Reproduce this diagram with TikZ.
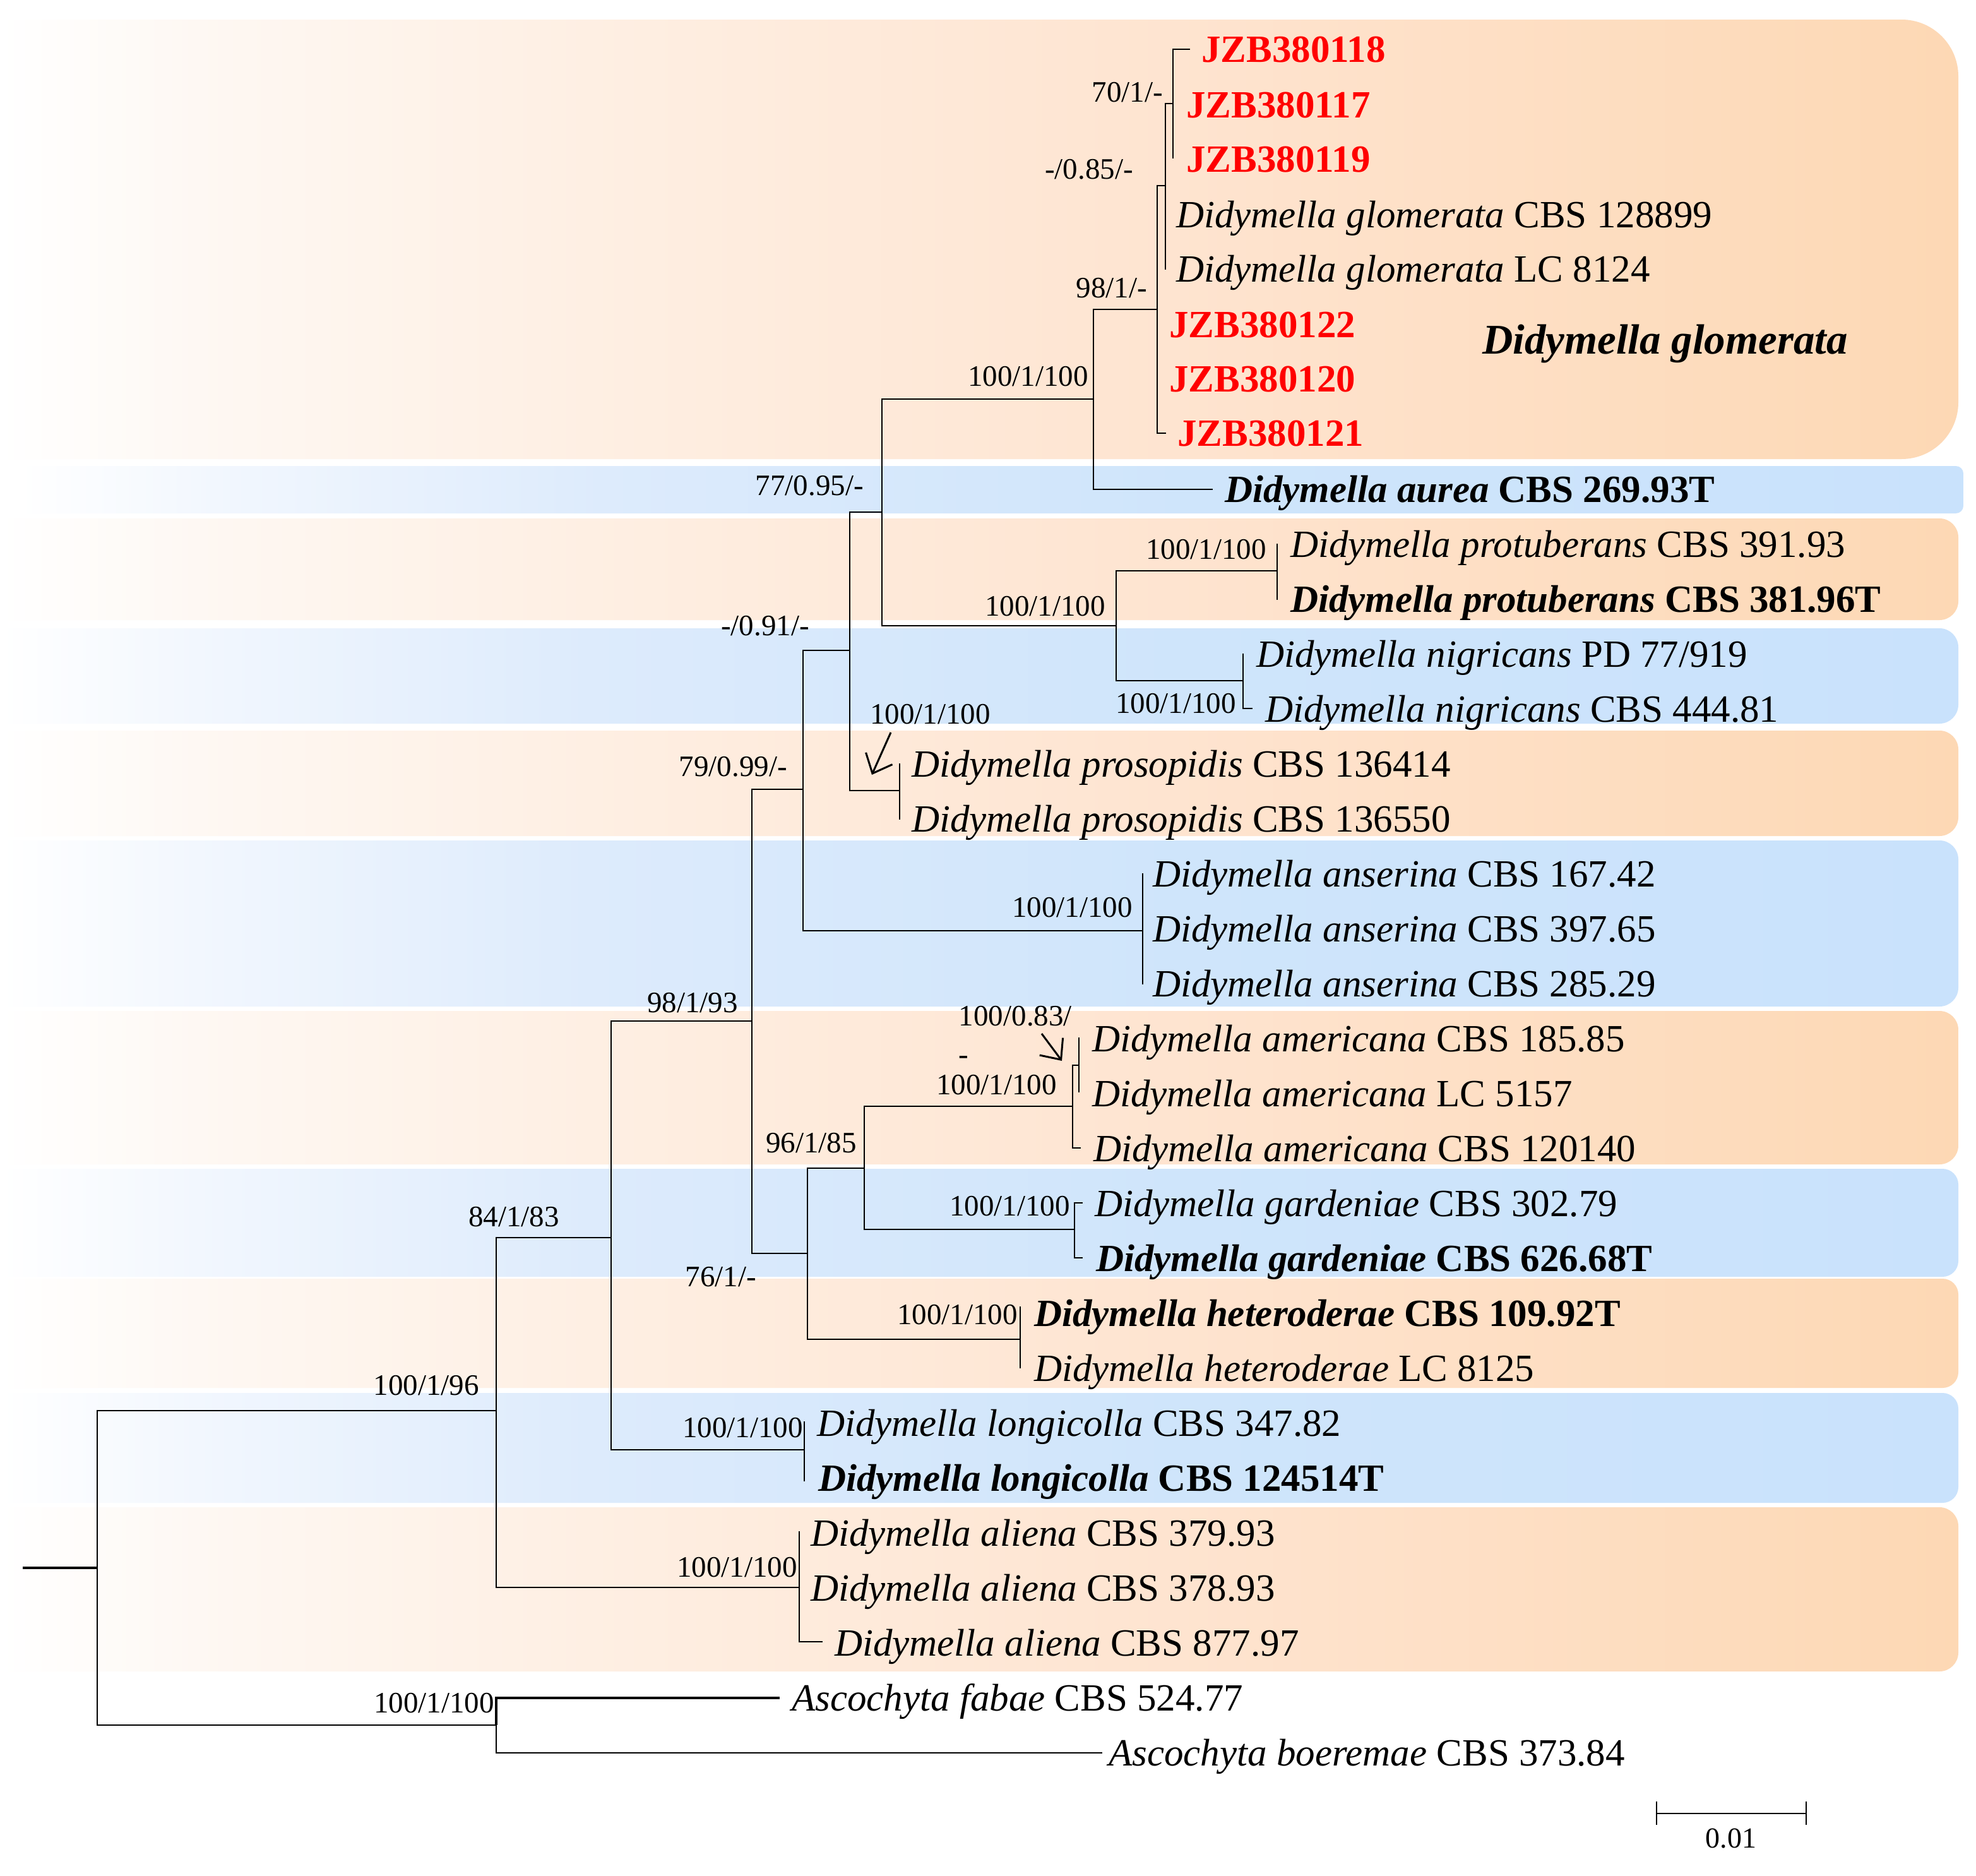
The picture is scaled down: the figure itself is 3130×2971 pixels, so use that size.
\documentclass[tikz,border=0pt]{standalone}
\usepackage{fontspec}
\setmainfont{Liberation Serif}
\usetikzlibrary{arrows.meta}
\definecolor{o1}{HTML}{FEF8F3}
\definecolor{o2}{HTML}{FEEFE3}
\definecolor{o3}{HTML}{FEE4D0}
\definecolor{o4}{HTML}{FDD8B4}
\definecolor{b1}{HTML}{F2F7FE}
\definecolor{b2}{HTML}{DDEBFC}
\definecolor{b3}{HTML}{CFE5FB}
\definecolor{b4}{HTML}{C9E2FC}
\definecolor{jzbred}{HTML}{FF0000}
\pgfdeclarehorizontalshading{orangeband}{100bp}{color(0bp)=(white); color(25bp)=(white); color(30bp)=(o1); color(40bp)=(o2); color(55bp)=(o3); color(75bp)=(o4); color(100bp)=(o4)}
\pgfdeclarehorizontalshading{blueband}{100bp}{color(0bp)=(white); color(25bp)=(white); color(30bp)=(b1); color(40bp)=(b2); color(55bp)=(b3); color(75bp)=(b4); color(100bp)=(b4)}
\newcommand{\myband}[6]{\shade[shading=#6] (#1,#2) -- ({#4-#5},#2) arc[start angle=90,end angle=0,radius=#5pt] -- (#4,{#3-#5}) arc[start angle=0,end angle=-90,radius=#5pt] -- (#1,#3) -- cycle;}
\tikzset{
  branch/.style={line width=2pt, line cap=rect},
  thickbranch/.style={line width=3.5pt},
  tiplab/.style={anchor=base west, inner sep=0pt, font=\fontsize{61}{70}\selectfont},
  supp/.style={anchor=base east, inner sep=0pt, font=\fontsize{47}{55}\selectfont},
  pointer/.style={line width=3pt, -{Straight Barb[length=26pt,width=46pt]}},
}
\newcommand{\jzb}[1]{\textcolor{jzbred}{\bfseries #1}}
\begin{document}
\begin{tikzpicture}[x=1pt,y=-1pt]
\useasboundingbox (0,0) rectangle (3130,2971);
\fill[white] (0,0) rectangle (3130,2971);
% bands
\myband{0}{31}{727}{3102}{90}{orangeband}
\myband{30}{738}{813}{3110}{12}{blueband}
\myband{0}{821}{982}{3102}{30}{orangeband}
\myband{0}{995}{1146}{3102}{30}{blueband}
\myband{0}{1157}{1324}{3102}{30}{orangeband}
\myband{0}{1331}{1594}{3102}{30}{blueband}
\myband{0}{1601}{1844}{3102}{30}{orangeband}
\myband{0}{1851}{2022}{3102}{25}{blueband}
\myband{0}{2025}{2198}{3102}{25}{orangeband}
\myband{0}{2206}{2380}{3102}{25}{blueband}
\myband{0}{2387}{2647}{3102}{30}{orangeband}
% internal nodes
\coordinate (rs) at (36,2483);
\coordinate (R) at (154,2483);
\coordinate (D) at (786,2234);
\coordinate (O) at (786,2732);
\coordinate (E) at (968,1960);
\coordinate (Al) at (1266,2514);
\coordinate (F) at (1191,1617);
\coordinate (Lo) at (1274,2296);
\coordinate (G) at (1272,1250);
\coordinate (H) at (1279,1985);
\coordinate (K) at (1346,1030);
\coordinate (An) at (1810,1474);
\coordinate (J) at (1397,811);
\coordinate (Pr) at (1425,1252);
\coordinate (L) at (1732,632);
\coordinate (M) at (1768,991);
\coordinate (N) at (1833,490);
\coordinate (P) at (1846,294);
\coordinate (Q) at (1858,164);
\coordinate (Pt) at (2023,904);
\coordinate (Ng) at (1969,1078);
\coordinate (I) at (1369,1850);
\coordinate (He) at (1616,2121);
\coordinate (Am) at (1699,1752);
\coordinate (AmB) at (1709,1687);
\coordinate (Ga) at (1702,1947);
% tips
\coordinate (t1) at (1884,78);
\coordinate (t2) at (1858,166);
\coordinate (t3) at (1858,250);
\coordinate (t4) at (1846,340);
\coordinate (t5) at (1846,426);
\coordinate (t6) at (1833,514);
\coordinate (t7) at (1833,600);
\coordinate (t8) at (1846,686);
\coordinate (t9) at (1920,775);
\coordinate (t10) at (2023,862);
\coordinate (t11) at (2023,949);
\coordinate (t12) at (1969,1036);
\coordinate (t13) at (1983,1122);
\coordinate (t14) at (1425,1210);
\coordinate (t15) at (1425,1297);
\coordinate (t16) at (1810,1384);
\coordinate (t17) at (1810,1471);
\coordinate (t18) at (1810,1558);
\coordinate (t19) at (1709,1644);
\coordinate (t20) at (1709,1729);
\coordinate (t21) at (1711,1818);
\coordinate (t22) at (1714,1905);
\coordinate (t23) at (1714,1992);
\coordinate (t24) at (1616,2070);
\coordinate (t25) at (1616,2166);
\coordinate (t26) at (1274,2252);
\coordinate (t27) at (1274,2345);
\coordinate (t28) at (1266,2426);
\coordinate (t29) at (1266,2514);
\coordinate (t30) at (1302,2600);
\coordinate (t31) at (1235,2689);
\coordinate (t32) at (1745,2776);
% branches
\draw[thickbranch] (rs) -- (R);
\foreach \p/\c in {R/D, R/O, D/E, D/Al, O/t32, E/F, E/Lo, F/G, F/H, G/K, G/An, K/J, K/Pr, J/L, J/M, L/N, L/t9, N/P, N/t6, N/t7, N/t8, P/Q, P/t4, P/t5, Q/t1, Q/t2, Q/t3, M/Pt, M/Ng, Pt/t10, Pt/t11, Ng/t12, Ng/t13, Pr/t14, Pr/t15, An/t16, An/t17, An/t18, H/I, H/He, I/Am, I/Ga, Am/AmB, Am/t21, AmB/t19, AmB/t20, Ga/t22, Ga/t23, He/t24, He/t25, Lo/t26, Lo/t27, Al/t28, Al/t29, Al/t30}
  \draw[branch] (\p) |- (\c);
\draw[thickbranch] (O) |- (t31);
% tip labels
\node[tiplab] (n1) at (1903,98) {\jzb{JZB380118}};
\node[tiplab] (n2) at (1879,186) {\jzb{JZB380117}};
\node[tiplab] (n3) at (1879,272) {\jzb{JZB380119}};
\node[tiplab] (n4) at (1863,360) {\textit{Didymella glomerata} CBS 128899};
\node[tiplab] (n5) at (1863,446) {\textit{Didymella glomerata} LC 8124};
\node[tiplab] (n6) at (1852,534) {\jzb{JZB380122}};
\node[tiplab] (n7) at (1852,620) {\jzb{JZB380120}};
\node[tiplab] (n8) at (1865,706) {\jzb{JZB380121}};
\node[tiplab] (n9) at (1940,795) {\bfseries\itshape Didymella aurea \upshape CBS 269.93T};
\node[tiplab] (n10) at (2044,882) {\textit{Didymella protuberans} CBS 391.93};
\node[tiplab] (n11) at (2044,969) {\bfseries\itshape Didymella protuberans \upshape CBS 381.96T};
\node[tiplab] (n12) at (1990,1056) {\textit{Didymella nigricans} PD 77/919};
\node[tiplab] (n13) at (2004,1143) {\textit{Didymella nigricans} CBS 444.81};
\node[tiplab] (n14) at (1444,1230) {\textit{Didymella prosopidis} CBS 136414};
\node[tiplab] (n15) at (1444,1317) {\textit{Didymella prosopidis} CBS 136550};
\node[tiplab] (n16) at (1826,1404) {\textit{Didymella anserina} CBS 167.42};
\node[tiplab] (n17) at (1826,1491) {\textit{Didymella anserina} CBS 397.65};
\node[tiplab] (n18) at (1826,1578) {\textit{Didymella anserina} CBS 285.29};
\node[tiplab] (n19) at (1730,1665) {\textit{Didymella americana} CBS 185.85};
\node[tiplab] (n20) at (1730,1752) {\textit{Didymella americana} LC 5157};
\node[tiplab] (n21) at (1732,1839) {\textit{Didymella americana} CBS 120140};
\node[tiplab] (n22) at (1734,1926) {\textit{Didymella gardeniae} CBS 302.79};
\node[tiplab] (n23) at (1736,2013) {\bfseries\itshape Didymella gardeniae \upshape CBS 626.68T};
\node[tiplab] (n24) at (1638,2100) {\bfseries\itshape Didymella heteroderae \upshape CBS 109.92T};
\node[tiplab] (n25) at (1638,2187) {\textit{Didymella heteroderae} LC 8125};
\node[tiplab] (n26) at (1294,2274) {\textit{Didymella longicolla} CBS 347.82};
\node[tiplab] (n27) at (1296,2361) {\bfseries\itshape Didymella longicolla \upshape CBS 124514T};
\node[tiplab] (n28) at (1284,2448) {\textit{Didymella aliena} CBS 379.93};
\node[tiplab] (n29) at (1284,2535) {\textit{Didymella aliena} CBS 378.93};
\node[tiplab] (n30) at (1322,2622) {\textit{Didymella aliena} CBS 877.97};
\node[tiplab] (n31) at (1254,2709) {\textit{Ascochyta fabae} CBS 524.77};
\node[tiplab] (n32) at (1756,2796) {\textit{Ascochyta boeremae} CBS 373.84};
% clade label
\node[anchor=base west, inner sep=0pt, font=\fontsize{67}{75}\selectfont\bfseries\itshape] (clade) at (2348,560) {Didymella glomerata};
% support values
\node[supp] (s1) at (1842,161) {70/1/-};
\node[supp] (s2) at (1795,283) {-/0.85/-};
\node[supp] (s3) at (1817,471) {98/1/-};
\node[supp] (s4) at (1724,611) {100/1/100};
\node[supp] (s5) at (1368,784) {77/0.95/-};
\node[supp] (s6) at (2006,885) {100/1/100};
\node[supp] (s7) at (1751,975) {100/1/100};
\node[supp] (s8) at (1282,1006) {-/0.91/-};
\node[supp] (s9) at (1958,1129) {100/1/100};
\node[supp] (s10) at (1569,1146) {100/1/100};
\node[supp] (s11) at (1247,1229) {79/0.99/-};
\node[supp] (s12) at (1794,1452) {100/1/100};
\node[supp] (s13) at (1169,1603) {98/1/93};
\node[supp] (s14) at (1698,1624) {100/0.83/};
\node[supp] (s14b) at (1534,1685) {-};
\node[supp] (s15) at (1674,1733) {100/1/100};
\node[supp] (s16) at (1357,1825) {96/1/85};
\node[supp] (s17) at (1695,1925) {100/1/100};
\node[supp] (s18) at (886,1942) {84/1/83};
\node[supp] (s19) at (1198,2037) {76/1/-};
\node[supp] (s20) at (1612,2097) {100/1/100};
\node[supp] (s21) at (759,2209) {100/1/96};
\node[supp] (s22) at (1272,2276) {100/1/100};
\node[supp] (s23) at (1263,2497) {100/1/100};
\node[supp] (s24) at (783,2712) {100/1/100};
% pointer arrows
\coordinate (a1s) at (1411,1160);
\coordinate (a1e) at (1381,1227);
\draw[pointer] (a1s) -- (a1e);
\coordinate (a2s) at (1650,1637);
\coordinate (a2e) at (1682,1680);
\draw[pointer] (a2s) -- (a2e);
% scale bar
\coordinate (sb1) at (2624,2872);
\coordinate (sb2) at (2861,2872);
\draw[line width=2pt] (sb1) -- (sb2);
\draw[line width=2pt] ([yshift=19pt]sb1) -- ([yshift=-18pt]sb1);
\draw[line width=2pt] ([yshift=19pt]sb2) -- ([yshift=-18pt]sb2);
\node[anchor=base, inner sep=0pt, font=\fontsize{46}{52}\selectfont] (sbl) at (2742,2926) {0.01};
\end{tikzpicture}
\end{document}
